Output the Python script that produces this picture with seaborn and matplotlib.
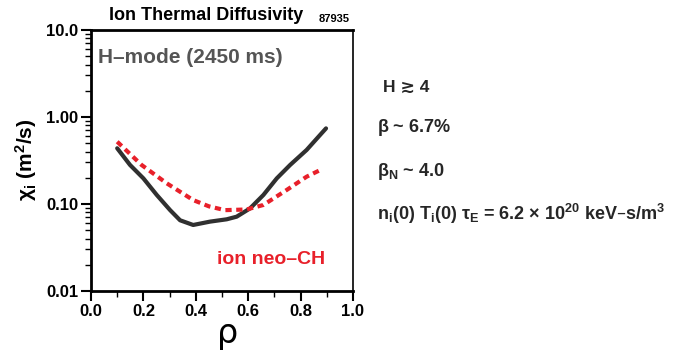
import matplotlib
matplotlib.use("Agg")
import matplotlib.pyplot as plt
import matplotlib.ticker as mticker
import numpy as np
import pandas as pd
import seaborn as sns

# Ion thermal diffusivity profiles (shot 87935, 2450 ms)
rho_exp = [0.10, 0.149, 0.20, 0.251, 0.302, 0.34, 0.39, 0.454, 0.518, 0.556,
           0.607, 0.658, 0.709, 0.76, 0.823, 0.874, 0.897]
chi_exp = [0.437, 0.281, 0.197, 0.127, 0.085, 0.065, 0.0574, 0.0627, 0.0667, 0.0715,
           0.089, 0.127, 0.197, 0.281, 0.418, 0.62, 0.74]

rho_neo = [0.10, 0.193, 0.289, 0.39, 0.45, 0.511, 0.594, 0.658, 0.747, 0.823, 0.88]
chi_neo = [0.52, 0.281, 0.173, 0.111, 0.094, 0.085, 0.0865, 0.0975, 0.145, 0.206, 0.25]

x_ticks = [0.0, 0.2, 0.4, 0.6, 0.8, 1.0]
x_ticklabels = ["0.0", "0.2", "0.4", "0.6", "0.8", "1.0"]
y_ticks = [0.01, 0.1, 1.0, 10.0]
y_ticklabels = ["0.01", "0.10", "1.00", "10.0"]

sns.set_theme(style="ticks")
FONT = ["Liberation Sans", "DejaVu Sans"]
plt.rcParams["font.family"] = FONT
plt.rcParams["font.weight"] = "bold"
plt.rcParams["mathtext.fontset"] = "dejavusans"
plt.rcParams["mathtext.default"] = "regular"

df = pd.concat([
    pd.DataFrame({"rho": rho_exp, "chi": chi_exp, "kind": "H-mode"}),
    pd.DataFrame({"rho": rho_neo, "chi": chi_neo, "kind": "neo"}),
], ignore_index=True)

fig = plt.figure(figsize=(6.78, 3.52), dpi=100)
ax = fig.add_axes([91 / 678, 1 - 291 / 352, 262 / 678, 261 / 352])

sns.lineplot(data=df[df.kind == "H-mode"], x="rho", y="chi", ax=ax,
             color="#303030", linewidth=3.0, sort=False, estimator=None)
sns.lineplot(data=df[df.kind == "neo"], x="rho", y="chi", ax=ax,
             color="#e8202a", linewidth=3.0, sort=False, estimator=None,
             dashes=False, linestyle=(0, (1.5, 1.1)))

ax.set_yscale("log")
ax.set_xlim(0, 1)
ax.set_ylim(0.01, 10)
ax.set_xticks(x_ticks)
ax.set_xticklabels(x_ticklabels)
ax.xaxis.set_minor_locator(mticker.MultipleLocator(0.1))
ax.set_yticks(y_ticks)
ax.set_yticklabels(y_ticklabels)
ax.yaxis.set_minor_locator(mticker.LogLocator(base=10, subs=np.arange(2, 10)))
ax.yaxis.set_minor_formatter(mticker.NullFormatter())

ax.tick_params(axis="both", which="major", direction="out", length=7, width=1.5,
               labelsize=12, color="black", pad=2)
ax.tick_params(axis="both", which="minor", direction="out", length=4, width=1.0, color="black")
for lbl in ax.get_xticklabels() + ax.get_yticklabels():
    lbl.set_fontweight("bold")
    lbl.set_color("black")

for side in ["left", "bottom", "top"]:
    ax.spines[side].set_linewidth(2.0)
    ax.spines[side].set_color("black")
ax.spines["right"].set_linewidth(1.2)
ax.spines["right"].set_color("black")

ax.set_xlabel("")
ax.set_ylabel("")

fig.text(206 / 678, 1 - 16 / 352, "Ion Thermal Diffusivity", ha="center", va="center",
         fontsize=13, fontweight="bold", color="black")
fig.text(334 / 678, 1 - 19 / 352, "87935", ha="center", va="center",
         fontsize=8, fontweight="bold", color="black")
ax.text(0.025, 0.895, "H\u2013mode (2450 ms)", transform=ax.transAxes, ha="left", va="center",
        fontsize=15, fontweight="bold", color="#555555")
ax.text(0.48, 0.12, "ion neo\u2013CH", transform=ax.transAxes, ha="left", va="center",
        fontsize=14, fontweight="bold", color="#e8202a")

fig.text(26 / 678, 1 - 160 / 352, "$\\chi_{i}$ (m$^{2}$/s)", rotation=90,
         ha="center", va="center", fontsize=15, fontweight="bold", color="black")
fig.text(228 / 678, 1 - 334 / 352, "\u03c1", ha="center", va="center",
         fontsize=24, fontweight="normal", family=["DejaVu Sans"], color="black")

fig.text(383 / 678, 1 - 87 / 352, "H \u2273 4", ha="left", va="center",
         fontsize=12.5, fontweight="bold", family=FONT)
fig.text(377 / 678, 1 - 128 / 352, "$\\beta$ ~ 6.7%", ha="left", va="center",
         fontsize=13, fontweight="bold")
fig.text(377 / 678, 1 - 171 / 352, "$\\beta_{N}$ ~ 4.0", ha="left", va="center",
         fontsize=13, fontweight="bold")
fig.text(377 / 678, 1 - 214 / 352,
         "n$_{i}$(0) T$_{i}$(0) $\\tau_{E}$ = 6.2 $\\times$ 10$^{20}$ keV\u2013s/m$^{3}$",
         ha="left", va="center", fontsize=13, fontweight="bold")

fig.savefig("out.png", dpi=100, facecolor="white")
